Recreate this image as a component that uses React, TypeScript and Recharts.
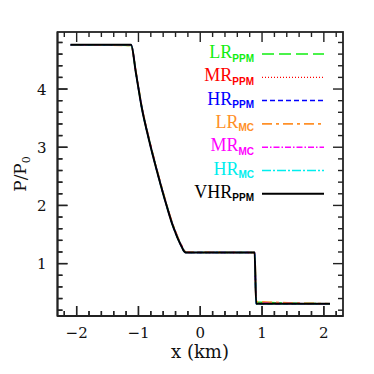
import { LineChart, Line, XAxis, YAxis } from 'recharts';

const X_PTS = [-2.1, -1.12, -1.04, -0.95, -0.83, -0.69, -0.54, -0.45, -0.4, -0.35, -0.3, -0.26, -0.23, 0.88, 0.905, 2.1];

// P/P0 for each run (they sit almost on top of each other)
const LR_PPM = [4.76, 4.75, 4.28, 3.71, 3.14, 2.56, 1.99, 1.68, 1.54, 1.41, 1.3, 1.22, 1.19, 1.19, 0.34, 0.31];
const MR_PPM = [4.76, 4.76, 4.27, 3.7, 3.13, 2.55, 1.98, 1.67, 1.53, 1.4, 1.29, 1.21, 1.19, 1.19, 0.32, 0.31];
const HR_PPM = [4.76, 4.76, 4.27, 3.7, 3.13, 2.55, 1.98, 1.67, 1.53, 1.4, 1.29, 1.21, 1.19, 1.19, 0.31, 0.31];
const LR_MC = [4.76, 4.75, 4.29, 3.72, 3.15, 2.57, 2.0, 1.69, 1.55, 1.42, 1.31, 1.23, 1.2, 1.19, 0.35, 0.31];
const MR_MC = [4.76, 4.76, 4.28, 3.71, 3.14, 2.56, 1.99, 1.68, 1.54, 1.41, 1.3, 1.22, 1.19, 1.19, 0.32, 0.31];
const HR_MC = [4.76, 4.76, 4.27, 3.7, 3.13, 2.55, 1.98, 1.67, 1.53, 1.4, 1.29, 1.21, 1.19, 1.19, 0.31, 0.31];
const VHR_PPM = [4.76, 4.76, 4.27, 3.7, 3.13, 2.55, 1.98, 1.67, 1.53, 1.4, 1.29, 1.21, 1.19, 1.19, 0.31, 0.31];

const X_DOMAIN = [-2.31, 2.31];
const Y_DOMAIN = [0.1, 4.98];
const X_TICKS = [-2.2, -2, -1.8, -1.6, -1.4, -1.2, -1, -0.8, -0.6, -0.4, -0.2, 0, 0.2, 0.4, 0.6, 0.8, 1, 1.2, 1.4, 1.6, 1.8, 2, 2.2];
const Y_TICKS = [0.2, 0.4, 0.6, 0.8, 1, 1.2, 1.4, 1.6, 1.8, 2, 2.2, 2.4, 2.6, 2.8, 3, 3.2, 3.4, 3.6, 3.8, 4, 4.2, 4.4, 4.6, 4.8];

const SERIES = [
  { key: 'lrPpm', main: 'LR', sub: 'PPM', color: '#11ee11', dash: '12 5', width: 1.5, ys: LR_PPM },
  { key: 'mrPpm', main: 'MR', sub: 'PPM', color: '#ff0000', dash: '1 2', width: 1.2, ys: MR_PPM },
  { key: 'hrPpm', main: 'HR', sub: 'PPM', color: '#0000ff', dash: '5 3', width: 1.5, ys: HR_PPM },
  { key: 'lrMc', main: 'LR', sub: 'MC', color: '#ff9028', dash: '10 4 3 4', width: 1.8, ys: LR_MC },
  { key: 'mrMc', main: 'MR', sub: 'MC', color: '#ff00ff', dash: '6 2 1.5 2', width: 1.5, ys: MR_MC },
  { key: 'hrMc', main: 'HR', sub: 'MC', color: '#00eeee', dash: '9 2 2 2', width: 1.5, ys: HR_MC },
  { key: 'vhrPpm', main: 'VHR', sub: 'PPM', color: '#000000', dash: undefined, width: 2, ys: VHR_PPM },
];

// frame edges in px (match the chart margins / axis sizes below)
const FRAME = { left: 57.5, right: 343, top: 32, bottom: 316 };

const AXIS = '#222';
const SERIF = '"DejaVu Serif", serif';

const isMajor = (v: number) => Math.abs(v - Math.round(v)) < 1e-6;
const fmt = (v: number) => (v < 0 ? '\u2212' + Math.abs(v) : String(v));
const tickLen = (v: number) => (isMajor(v) ? 10 : 5);

// same linear mapping the chart uses for its plot box
const toPxX = (v: number) =>
  FRAME.left + ((v - X_DOMAIN[0]) / (X_DOMAIN[1] - X_DOMAIN[0])) * (FRAME.right - FRAME.left);
const toPxY = (v: number) =>
  FRAME.bottom - ((v - Y_DOMAIN[0]) / (Y_DOMAIN[1] - Y_DOMAIN[0])) * (FRAME.bottom - FRAME.top);

function XTick({ x, payload }: any) {
  return (
    <g>
      <line x1={x} x2={x} y1={FRAME.bottom} y2={FRAME.bottom - tickLen(payload.value)} stroke={AXIS} strokeWidth={1.4} />
      {isMajor(payload.value) && (
        <text x={x} y={FRAME.bottom + 22} textAnchor="middle" fill="#111" fontSize={15} fontFamily={SERIF}>
          {fmt(payload.value)}
        </text>
      )}
    </g>
  );
}

function YTick({ y, payload }: any) {
  return (
    <g>
      <line x1={FRAME.left} x2={FRAME.left + tickLen(payload.value)} y1={y} y2={y} stroke={AXIS} strokeWidth={1.4} />
      {isMajor(payload.value) && (
        <text x={FRAME.left - 11} y={y + 5.5} textAnchor="end" fill="#111" fontSize={15} fontFamily={SERIF}>
          {fmt(payload.value)}
        </text>
      )}
    </g>
  );
}

// box edges + top/right ticks, axis titles and the key, laid over the chart
function Overlay() {
  return (
    <svg width={374} height={374} style={{ position: 'absolute', left: 0, top: 0, pointerEvents: 'none' }}>
      <rect
        x={FRAME.left}
        y={FRAME.top}
        width={FRAME.right - FRAME.left}
        height={FRAME.bottom - FRAME.top}
        fill="none"
        stroke={AXIS}
        strokeWidth={1.8}
      />
      {X_TICKS.map((v) => (
        <g key={'x' + v}>
          <line x1={toPxX(v)} x2={toPxX(v)} y1={FRAME.top} y2={FRAME.top + tickLen(v)} stroke={AXIS} strokeWidth={1.4} />
          <line x1={toPxX(v)} x2={toPxX(v)} y1={FRAME.bottom} y2={FRAME.bottom - tickLen(v)} stroke={AXIS} strokeWidth={1.4} />
        </g>
      ))}
      {Y_TICKS.map((v) => (
        <g key={'y' + v}>
          <line x1={FRAME.right} x2={FRAME.right - tickLen(v)} y1={toPxY(v)} y2={toPxY(v)} stroke={AXIS} strokeWidth={1.4} />
          <line x1={FRAME.left} x2={FRAME.left + tickLen(v)} y1={toPxY(v)} y2={toPxY(v)} stroke={AXIS} strokeWidth={1.4} />
        </g>
      ))}
      <text x={200} y={358} textAnchor="middle" fontFamily={SERIF} fontSize={18} fill="#111">
        x (km)
      </text>
      <text
        x={26}
        y={174}
        transform="rotate(-90, 26, 174)"
        textAnchor="middle"
        fontFamily={SERIF}
        fontSize={17}
        fill="#111"
      >
        P/P
        <tspan dy={4} fontSize={11}>
          0
        </tspan>
      </text>
      {SERIES.map((s, i) => {
        const base = 58 + i * 23.3;
        return (
          <g key={s.key}>
            <text x={254} y={base} textAnchor="end" fill={s.color} fontFamily='"Liberation Serif", serif' fontSize={18}>
              {s.main}
              <tspan dy={3.5} fontFamily='"Liberation Sans", sans-serif' fontWeight="bold" fontSize={10}>
                {s.sub}
              </tspan>
            </text>
            <line
              x1={262}
              x2={324}
              y1={base - 4}
              y2={base - 4}
              stroke={s.color}
              strokeWidth={s.width}
              strokeDasharray={s.dash}
            />
          </g>
        );
      })}
    </svg>
  );
}

export default function App() {
  return (
    <div style={{ position: 'absolute', left: 0, top: 0, width: 374, height: 374, background: '#fff' }}>
      <LineChart width={374} height={374} margin={{ top: 32, right: 31, bottom: 0, left: 0 }}>
        <XAxis
          xAxisId="b"
          type="number"
          dataKey="x"
          domain={X_DOMAIN}
          ticks={X_TICKS}
          interval={0}
          allowDataOverflow
          orientation="bottom"
          height={58}
          tickLine={false}
          axisLine={{ stroke: AXIS, strokeWidth: 1.8 }}
          tick={(p: any) => <XTick {...p} />}
        />
        <YAxis
          yAxisId="l"
          type="number"
          domain={Y_DOMAIN}
          ticks={Y_TICKS}
          interval={0}
          allowDataOverflow
          orientation="left"
          width={57.5}
          tickLine={false}
          axisLine={{ stroke: AXIS, strokeWidth: 1.8 }}
          tick={(p: any) => <YTick {...p} />}
        />
        {SERIES.map((s) => (
          <Line
            key={s.key}
            xAxisId="b"
            yAxisId="l"
            data={X_PTS.map((x, i) => ({ x, y: s.ys[i] }))}
            dataKey="y"
            name={s.main + s.sub}
            type="monotone"
            stroke={s.color}
            strokeWidth={s.width}
            strokeDasharray={s.dash}
            dot={false}
            activeDot={false}
            isAnimationActive={false}
          />
        ))}
      </LineChart>
      <Overlay />
    </div>
  );
}
